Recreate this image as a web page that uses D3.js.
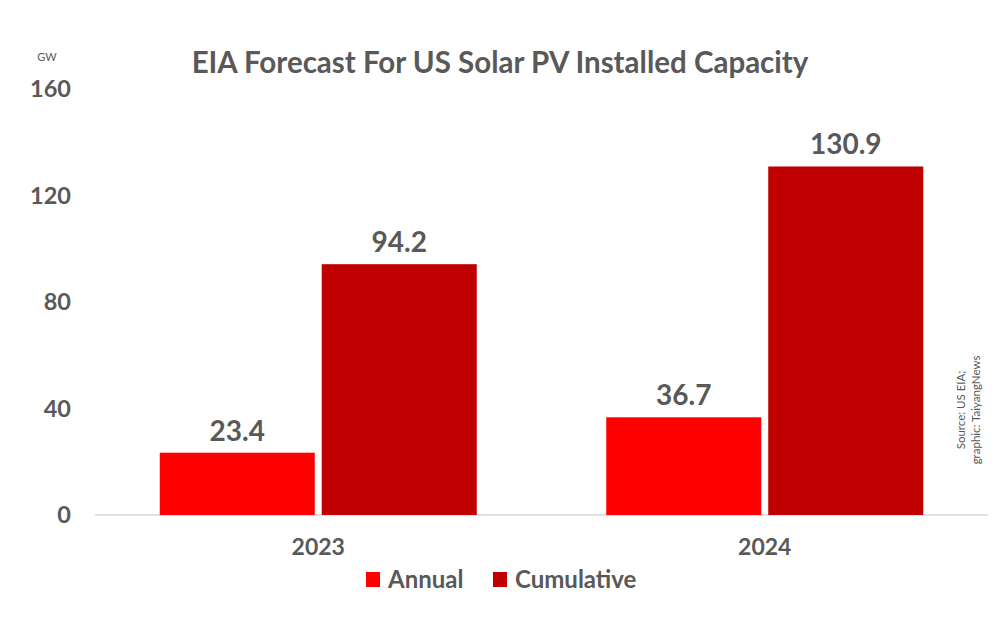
<!DOCTYPE html>
<html lang="en">
<head>
<meta charset="utf-8">
<title>EIA Forecast For US Solar PV Installed Capacity</title>
<script src="https://cdn.jsdelivr.net/npm/d3@7"></script>
<style>
  body { margin: 0; background: #fff; }
  svg text { font-family: Lato, "Open Sans", sans-serif; fill: #595959; }
  .axis path, .axis line { display: none; }
  .axis text { font-weight: bold; }
</style>
</head>
<body>
<script>
var years = ["2023", "2024"];
var series = ["Annual", "Cumulative"];
var annual = [23.4, 36.7];
var cumulative = [94.2, 130.9];
var yTicks = [0, 40, 80, 120, 160];
var colors = ["#ff0000", "#c00000"];

var w = 1000, h = 640;

var svg = d3.select("body").append("svg")
    .attr("width", w)
    .attr("height", h);

var rows = years.map(function(y, i) {
  return { year: y, values: [annual[i], cumulative[i]] };
});

var x0 = d3.scaleBand()
    .domain(years)
    .range([95, 988])
    .paddingInner(0.29)
    .paddingOuter(0.145);

var x1 = d3.scaleBand()
    .domain(series)
    .range([0, x0.bandwidth()])
    .paddingInner(0.043);

var y = d3.scaleLinear()
    .domain([0, 160])
    .range([515, 89]);

// title
svg.append("text")
    .attr("x", 500)
    .attr("y", 73)
    .attr("text-anchor", "middle")
    .style("font-size", "29.5px")
    .style("font-weight", "bold")
    .text("EIA Forecast For US Solar PV Installed Capacity");

// unit
svg.append("text")
    .attr("x", 47)
    .attr("y", 61)
    .attr("text-anchor", "middle")
    .style("font-size", "11px")
    .text("GW");

// y axis
var yAxis = d3.axisLeft(y).tickValues(yTicks).tickSize(0).tickPadding(0);
svg.append("g")
    .attr("class", "axis")
    .attr("transform", "translate(71,0)")
    .call(yAxis)
    .selectAll("text")
    .style("font-size", "23.5px")
    .style("font-family", "Lato, sans-serif");

// baseline
svg.append("line")
    .attr("x1", 95).attr("x2", 988)
    .attr("y1", y(0)).attr("y2", y(0))
    .attr("stroke", "#d9d9d9")
    .attr("stroke-width", 1.5);

var groups = svg.selectAll("g.year")
    .data(rows)
    .enter().append("g")
    .attr("class", "year")
    .attr("transform", function(d) { return "translate(" + x0(d.year) + ",0)"; });

groups.selectAll("rect")
    .data(function(d) { return d.values; })
    .enter().append("rect")
    .attr("x", function(d, i) { return x1(series[i]); })
    .attr("y", function(d) { return y(d); })
    .attr("width", x1.bandwidth())
    .attr("height", function(d) { return y(0) - y(d); })
    .attr("fill", function(d, i) { return colors[i]; });

groups.selectAll("text.val")
    .data(function(d) { return d.values; })
    .enter().append("text")
    .attr("class", "val")
    .attr("x", function(d, i) { return x1(series[i]) + x1.bandwidth() / 2; })
    .attr("y", function(d) { return y(d) - 12; })
    .attr("text-anchor", "middle")
    .style("font-size", "28px")
    .style("font-weight", "bold")
    .text(function(d) { return d.toFixed(1); });

// x axis labels
var xAxis = d3.axisBottom(x0).tickSize(0).tickPadding(0);
svg.append("g")
    .attr("class", "axis")
    .attr("transform", "translate(0,539)")
    .call(xAxis)
    .selectAll("text")
    .style("font-size", "23px")
    .style("font-family", "Lato, sans-serif");

// legend
var legendX = [366, 493];
var legend = svg.selectAll("g.legend")
    .data(series)
    .enter().append("g")
    .attr("class", "legend")
    .attr("transform", function(d, i) { return "translate(" + legendX[i] + ",572)"; });

legend.append("rect")
    .attr("width", 14)
    .attr("height", 15)
    .attr("fill", function(d, i) { return colors[i]; });

legend.append("text")
    .attr("x", 22)
    .attr("y", 16)
    .style("font-size", "24px")
    .style("font-weight", "bold")
    .text(function(d) { return d; });

// source note
var note = svg.append("text")
    .attr("transform", "translate(965,410) rotate(-90)")
    .attr("text-anchor", "middle")
    .style("font-size", "11.5px");
note.append("tspan").attr("x", 0).attr("dy", 0).text("Source: US EIA;");
note.append("tspan").attr("x", 0).attr("dy", 15).text("graphic: TaiyangNews");
</script>
</body>
</html>
